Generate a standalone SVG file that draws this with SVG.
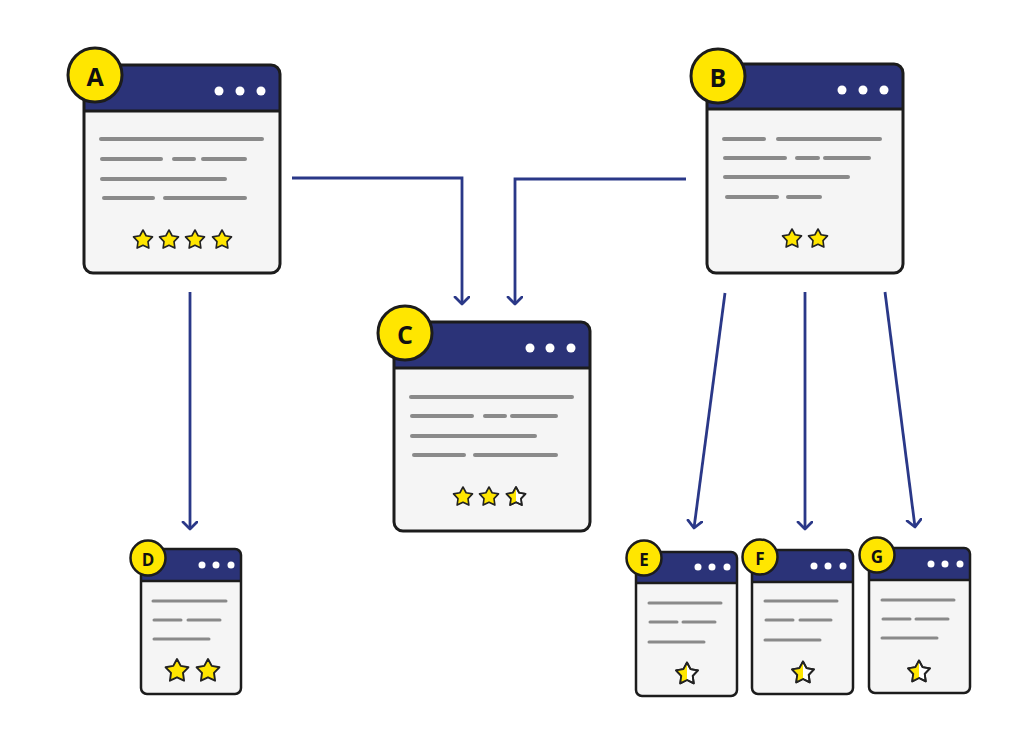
<svg xmlns="http://www.w3.org/2000/svg" width="1024" height="744" viewBox="0 0 1024 744">
<style>
.body{fill:#f5f5f5}
.hdr{fill:#2b3378}
.frame{fill:none;stroke:#1c1c1c;stroke-width:3}
.sep{stroke:#1c1c1c;stroke-width:3}
.frame-s{fill:none;stroke:#1c1c1c;stroke-width:2.5}
.sep-s{stroke:#1c1c1c;stroke-width:2.5}
.dot{fill:#ffffff}
.ln{stroke:#8a8a8a;stroke-width:4;stroke-linecap:round}
.ln-s{stroke:#8a8a8a;stroke-width:3;stroke-linecap:round}
.badge{fill:#ffe600;stroke:#1c1c1c;stroke-width:3}
.badge-s{fill:#ffe600;stroke:#1c1c1c;stroke-width:2.5}
.lbl{font-family:"Open Sans","Liberation Sans",sans-serif;font-weight:700;fill:#111;text-anchor:middle;dominant-baseline:central}
.conn{fill:none;stroke:#2a3888;stroke-width:2.8}
.star{fill:#ffe600;stroke:#222;stroke-width:1.6;stroke-linejoin:round}
.star-w{fill:#ffffff;stroke:#222;stroke-width:1.6;stroke-linejoin:round}
</style>
<defs>
<marker id="arr" markerUnits="userSpaceOnUse" markerWidth="18" markerHeight="18" refX="8" refY="8" orient="auto" viewBox="0 0 18 18">
<path d="M1,1 L8,8 L1,15" fill="none" stroke="#2a3888" stroke-width="2.8" stroke-linecap="round" stroke-linejoin="round"/>
</marker>
<path id="st" d="M0,-10 L3.1,-4.25 L9.51,-3.09 L5,1.62 L5.88,8.09 L0,5.25 L-5.88,8.09 L-5,1.62 L-9.51,-3.09 L-3.1,-4.25 Z"/>
<clipPath id="lefthalf"><rect x="-12" y="-12" width="12" height="24"/></clipPath>
<g id="halfstar">
<use href="#st" class="star-w"/>
<use href="#st" class="star" style="stroke:none" clip-path="url(#lefthalf)"/>
<use href="#st" fill="none" stroke="#222" stroke-width="1.6" stroke-linejoin="round"/>
</g>
</defs>

<g id="connectors">
<path class="conn" d="M292,178 H462 V304" marker-end="url(#arr)"/>
<path class="conn" d="M686,179 H515 V304" marker-end="url(#arr)"/>
<path class="conn" d="M190,292 V529" marker-end="url(#arr)"/>
<path class="conn" d="M725,293 L694,528" marker-end="url(#arr)"/>
<path class="conn" d="M805,292 V529" marker-end="url(#arr)"/>
<path class="conn" d="M885,292 L915,527" marker-end="url(#arr)"/>
</g>

<g id="node-A">
<rect class="body" x="84" y="65" width="196" height="208" rx="9"/>
<path class="hdr" d="M84,111 V74 Q84,65 93,65 H271 Q280,65 280,74 V111 Z"/>
<line class="sep" x1="84" y1="111" x2="280" y2="111"/>
<rect class="frame" x="84" y="65" width="196" height="208" rx="9"/>
<circle class="dot" cx="219" cy="91" r="4.5"/><circle class="dot" cx="240" cy="91" r="4.5"/><circle class="dot" cx="261" cy="91" r="4.5"/>
<line class="ln" x1="101" y1="139" x2="262" y2="139"/>
<line class="ln" x1="102" y1="159" x2="161" y2="159"/><line class="ln" x1="174" y1="159" x2="194" y2="159"/><line class="ln" x1="203" y1="159" x2="245" y2="159"/>
<line class="ln" x1="102" y1="179" x2="225" y2="179"/>
<line class="ln" x1="104" y1="198" x2="153" y2="198"/><line class="ln" x1="165" y1="198" x2="245" y2="198"/>
<use href="#st" class="star" x="143" y="240"/><use href="#st" class="star" x="169" y="240"/><use href="#st" class="star" x="195" y="240"/><use href="#st" class="star" x="222" y="240"/>
<circle class="badge" cx="95" cy="75" r="27"/>
<text class="lbl" x="95" y="76" font-size="25">A</text>
</g>

<g id="node-B">
<rect class="body" x="707" y="64" width="196" height="209" rx="9"/>
<path class="hdr" d="M707,109 V73 Q707,64 716,64 H894 Q903,64 903,73 V109 Z"/>
<line class="sep" x1="707" y1="109" x2="903" y2="109"/>
<rect class="frame" x="707" y="64" width="196" height="209" rx="9"/>
<circle class="dot" cx="842" cy="90" r="4.5"/><circle class="dot" cx="863" cy="90" r="4.5"/><circle class="dot" cx="884" cy="90" r="4.5"/>
<line class="ln" x1="724" y1="139" x2="764" y2="139"/><line class="ln" x1="778" y1="139" x2="880" y2="139"/>
<line class="ln" x1="725" y1="158" x2="785" y2="158"/><line class="ln" x1="797" y1="158" x2="818" y2="158"/><line class="ln" x1="825" y1="158" x2="869" y2="158"/>
<line class="ln" x1="725" y1="177" x2="848" y2="177"/>
<line class="ln" x1="727" y1="197" x2="777" y2="197"/><line class="ln" x1="788" y1="197" x2="820" y2="197"/>
<use href="#st" class="star" x="792" y="239"/><use href="#st" class="star" x="818" y="239"/>
<circle class="badge" cx="718" cy="76" r="27"/>
<text class="lbl" x="718" y="77" font-size="25">B</text>
</g>

<g id="node-C">
<rect class="body" x="394" y="322" width="196" height="209" rx="9"/>
<path class="hdr" d="M394,368 V331 Q394,322 403,322 H581 Q590,322 590,331 V368 Z"/>
<line class="sep" x1="394" y1="368" x2="590" y2="368"/>
<rect class="frame" x="394" y="322" width="196" height="209" rx="9"/>
<circle class="dot" cx="530" cy="348" r="4.5"/><circle class="dot" cx="550" cy="348" r="4.5"/><circle class="dot" cx="571" cy="348" r="4.5"/>
<line class="ln" x1="411" y1="397" x2="572" y2="397"/>
<line class="ln" x1="412" y1="416" x2="472" y2="416"/><line class="ln" x1="485" y1="416" x2="505" y2="416"/><line class="ln" x1="512" y1="416" x2="556" y2="416"/>
<line class="ln" x1="412" y1="436" x2="535" y2="436"/>
<line class="ln" x1="414" y1="455" x2="464" y2="455"/><line class="ln" x1="475" y1="455" x2="556" y2="455"/>
<use href="#st" class="star" x="463" y="497"/><use href="#st" class="star" x="489" y="497"/>
<use href="#halfstar" x="516" y="497"/>
<circle class="badge" cx="405" cy="333" r="27"/>
<text class="lbl" x="405" y="334" font-size="25">C</text>
</g>

<g id="node-D">
<rect class="body" x="141" y="549" width="100" height="145" rx="6"/>
<path class="hdr" d="M141,581 V555 Q141,549 147,549 H235 Q241,549 241,555 V581 Z"/>
<line class="sep-s" x1="141" y1="581" x2="241" y2="581"/>
<rect class="frame-s" x="141" y="549" width="100" height="145" rx="6"/>
<circle class="dot" cx="202" cy="565" r="3.5"/><circle class="dot" cx="216" cy="565" r="3.5"/><circle class="dot" cx="231" cy="565" r="3.5"/>
<line class="ln-s" x1="153" y1="601" x2="226" y2="601"/>
<line class="ln-s" x1="154" y1="620" x2="181" y2="620"/><line class="ln-s" x1="188" y1="620" x2="220" y2="620"/>
<line class="ln-s" x1="154" y1="639" x2="209" y2="639"/>
<g transform="translate(177,671) scale(1.2)"><use href="#st" class="star"/></g>
<g transform="translate(208,671) scale(1.2)"><use href="#st" class="star"/></g>
<circle class="badge-s" cx="148" cy="558" r="17.5"/>
<text class="lbl" x="148" y="559" font-size="17">D</text>
</g>

<g id="node-E">
<rect class="body" x="636" y="552" width="101" height="144" rx="6"/>
<path class="hdr" d="M636,583 V558 Q636,552 642,552 H731 Q737,552 737,558 V583 Z"/>
<line class="sep-s" x1="636" y1="583" x2="737" y2="583"/>
<rect class="frame-s" x="636" y="552" width="101" height="144" rx="6"/>
<circle class="dot" cx="698" cy="567" r="3.5"/><circle class="dot" cx="712" cy="567" r="3.5"/><circle class="dot" cx="727" cy="567" r="3.5"/>
<line class="ln-s" x1="649" y1="603" x2="721" y2="603"/>
<line class="ln-s" x1="650" y1="622" x2="677" y2="622"/><line class="ln-s" x1="683" y1="622" x2="715" y2="622"/>
<line class="ln-s" x1="649" y1="642" x2="704" y2="642"/>
<g transform="translate(687,674) scale(1.15)"><use href="#halfstar"/></g>
<circle class="badge-s" cx="644" cy="558" r="17.5"/>
<text class="lbl" x="644" y="559" font-size="17">E</text>
</g>

<g id="node-F">
<rect class="body" x="752" y="550" width="101" height="144" rx="6"/>
<path class="hdr" d="M752,582 V556 Q752,550 758,550 H847 Q853,550 853,556 V582 Z"/>
<line class="sep-s" x1="752" y1="582" x2="853" y2="582"/>
<rect class="frame-s" x="752" y="550" width="101" height="144" rx="6"/>
<circle class="dot" cx="814" cy="566" r="3.5"/><circle class="dot" cx="828" cy="566" r="3.5"/><circle class="dot" cx="843" cy="566" r="3.5"/>
<line class="ln-s" x1="765" y1="601" x2="837" y2="601"/>
<line class="ln-s" x1="766" y1="620" x2="793" y2="620"/><line class="ln-s" x1="800" y1="620" x2="831" y2="620"/>
<line class="ln-s" x1="765" y1="640" x2="820" y2="640"/>
<g transform="translate(803,673) scale(1.15)"><use href="#halfstar"/></g>
<circle class="badge-s" cx="760" cy="557" r="17.5"/>
<text class="lbl" x="760" y="558" font-size="17">F</text>
</g>

<g id="node-G">
<rect class="body" x="869" y="548" width="101" height="145" rx="6"/>
<path class="hdr" d="M869,580 V554 Q869,548 875,548 H964 Q970,548 970,554 V580 Z"/>
<line class="sep-s" x1="869" y1="580" x2="970" y2="580"/>
<rect class="frame-s" x="869" y="548" width="101" height="145" rx="6"/>
<circle class="dot" cx="931" cy="564" r="3.5"/><circle class="dot" cx="945" cy="564" r="3.5"/><circle class="dot" cx="960" cy="564" r="3.5"/>
<line class="ln-s" x1="882" y1="600" x2="954" y2="600"/>
<line class="ln-s" x1="883" y1="619" x2="910" y2="619"/><line class="ln-s" x1="916" y1="619" x2="948" y2="619"/>
<line class="ln-s" x1="882" y1="638" x2="937" y2="638"/>
<g transform="translate(919,672) scale(1.15)"><use href="#halfstar"/></g>
<circle class="badge-s" cx="877" cy="555" r="17.5"/>
<text class="lbl" x="877" y="556" font-size="17">G</text>
</g>
</svg>
